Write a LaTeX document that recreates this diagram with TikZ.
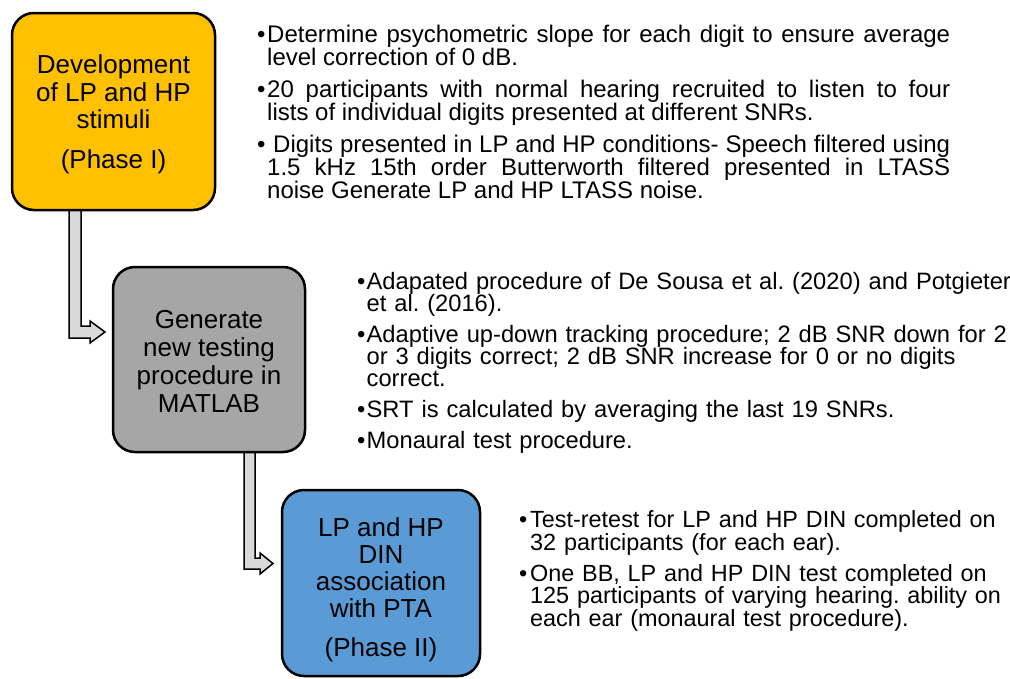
\documentclass[tikz,border=0pt]{standalone}
\usepackage{fontspec}
\setmainfont{Liberation Sans}
\frenchspacing
\definecolor{phaseyellow}{HTML}{FFC000}
\definecolor{phasegray}{HTML}{A6A6A6}
\definecolor{phaseblue}{HTML}{5B9BD5}
\definecolor{arrowgray}{HTML}{D9D9D9}
\newcommand\bitem[1]{\par\hangindent=#1\hangafter=1\noindent\makebox[#1][l]{\textbullet}}
\newcommand\blocksetup[1]{\setlength\parindent{0pt}\setlength\parskip{#1}\lineskiplimit=-20pt\tolerance=10000\hyphenpenalty=10000\exhyphenpenalty=10000}
\tikzset{
  phase/.style={draw=black, line width=2.5pt, rounded corners=22pt, align=center, inner sep=0pt},
  blockarrow/.style={draw=black, line width=1.5pt, fill=arrowgray, line join=miter},
  textblock/.style={anchor=north west, inner sep=0pt}
}
\begin{document}
\begin{tikzpicture}[x=1pt,y=-1pt]
\useasboundingbox[fill=white] (0,0) rectangle (1010,678);
% block arrows
\draw[blockarrow] (69,208) -- (69,338) -- (90,338) -- (90,343) -- (105,332) -- (90,321) -- (90,326) -- (81,326) -- (81,208) -- cycle;
\draw[blockarrow] (244,450) -- (244,569) -- (260,569) -- (260,574) -- (273,563.5) -- (260,553) -- (260,558) -- (255,558) -- (255,450) -- cycle;
% phase boxes
\node[phase, fill=phaseyellow, minimum width=203pt, minimum height=197pt,
      font=\fontsize{26}{27.5}\selectfont] (b1) at (113.5,111.5)
  {\rule{0pt}{25pt}Development\\of LP and HP\\stimuli\\[12.5pt](Phase I)};
\node[phase, fill=phasegray, minimum width=192pt, minimum height=185pt,
      font=\fontsize{26}{28}\selectfont] (b2) at (209,359.5)
  {\rule{0pt}{21pt}Generate\\new testing\\procedure in\\MATLAB};
\node[phase, fill=phaseblue, minimum width=198pt, minimum height=186pt,
      font=\fontsize{26}{27}\selectfont] (b3) at (381,583)
  {\rule{0pt}{33pt}LP and HP\\DIN\\association\\with PTA\\[12pt](Phase II)};
% text blocks
\node[textblock, text width=693pt, align=justify, font=\fontsize{24}{23}\selectfont] (t1) at (257,10)
  {\blocksetup{9pt}%
   \bitem{10pt}\rule{0pt}{20pt}Determine psychometric slope for each digit to ensure average\linebreak
   level correction of 0 dB.
   \bitem{10pt}20 participants with normal hearing recruited to listen to four\linebreak
   lists of individual digits presented at different SNRs.
   \bitem{10pt}\hspace{6pt}Digits presented in LP and HP conditions- Speech filtered using\linebreak
   1.5 kHz 15th order Butterworth filtered presented in LTASS\linebreak
   noise Generate LP and HP LTASS noise.\par};
\node[textblock, text width=660pt, align=left, font=\fontsize{23.7}{22}\selectfont] (t2) at (357,258.6)
  {\blocksetup{9pt}%
   \bitem{9.5pt}\rule{0pt}{20pt}Adapated procedure of De Sousa et al. (2020) and Potgieter\linebreak
   et al. (2016).
   \bitem{9.5pt}Adaptive up-down tracking procedure; 2 dB SNR down for 2\linebreak
   or 3 digits correct; 2 dB SNR increase for 0 or no digits\linebreak
   correct.
   \bitem{9.5pt}SRT is calculated by averaging the last 19 SNRs.
   \bitem{9.5pt}Monaural test procedure.\par};
\node[textblock, text width=490pt, align=left, font=\fontsize{23.4}{22.5}\selectfont] (t3) at (519,496.3)
  {\blocksetup{8.5pt}%
   \bitem{11pt}\rule{0pt}{20pt}Test-retest for LP and HP DIN completed on\linebreak
   32 participants (for each ear).
   \bitem{11pt}One BB, LP and HP DIN test completed on\linebreak
   125 participants of varying hearing. ability on\linebreak
   each ear (monaural test procedure).\par};
\end{tikzpicture}
\end{document}
